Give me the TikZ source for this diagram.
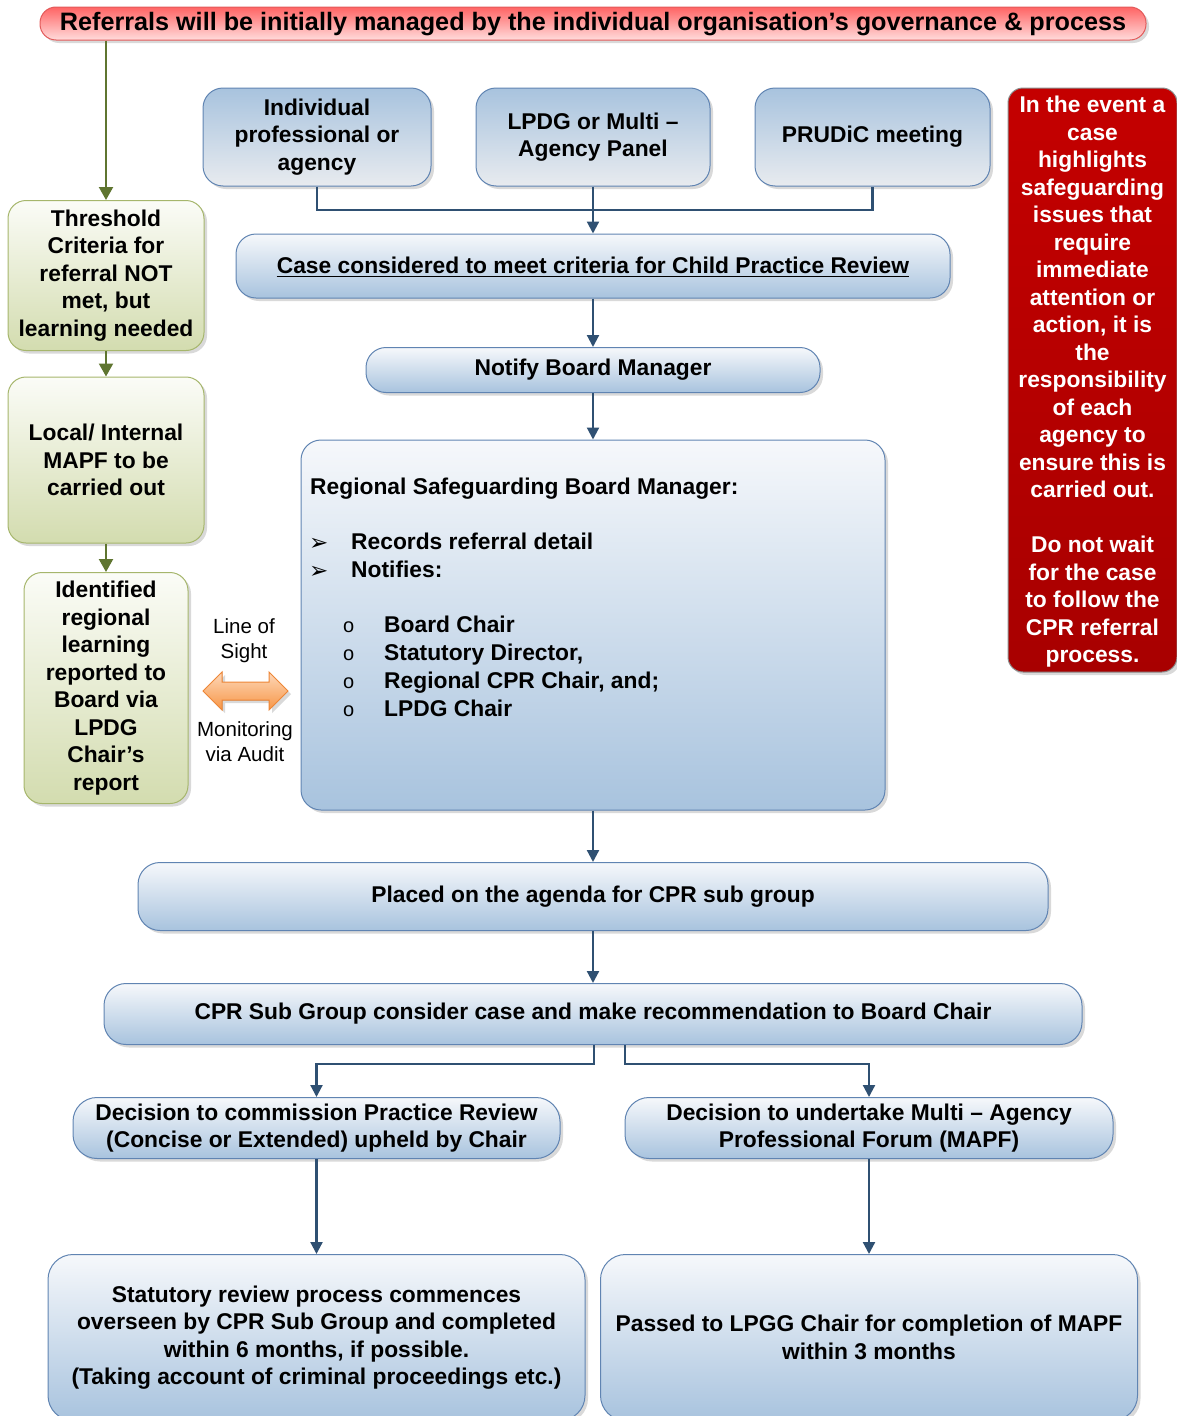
\documentclass[tikz,border=0pt]{standalone}
\usepackage{fontspec}
\setmainfont{Liberation Sans}
\newfontfamily\djv{DejaVu Sans}
\usetikzlibrary{arrows.meta,shadows}
\definecolor{navy}{HTML}{2F5072}
\definecolor{bborder}{HTML}{6084B2}
\definecolor{blight}{HTML}{F6F8FB}
\definecolor{bdark}{HTML}{A8C3DE}
\definecolor{tgray}{HTML}{E8EBEF}
\definecolor{glight}{HTML}{FBFCF7}
\definecolor{gdark}{HTML}{D3DCAF}
\definecolor{gborder}{HTML}{A6B66C}
\definecolor{garr}{HTML}{5F7530}
\definecolor{rtop}{HTML}{FF6464}
\definecolor{rbot}{HTML}{FFDCDC}
\definecolor{rborder}{HTML}{E25A5A}
\definecolor{dredtop}{HTML}{C40000}
\definecolor{dredbot}{HTML}{A80000}
\definecolor{otop}{HTML}{FDD8BA}
\definecolor{obot}{HTML}{F79646}
\definecolor{oborder}{HTML}{EE8636}
\begin{document}
\begin{tikzpicture}[x=1pt,y=-1pt,
  shad/.style={drop shadow={shadow xshift=3pt,shadow yshift=-3pt,opacity=0.25,fill=black!60}},
  txt/.style={font=\bfseries\fontsize{22.8}{27.5}\selectfont},
  boxbase/.style={shad,line width=1pt,align=center,inner sep=0pt,txt},
  bluebox/.style={boxbase,draw=bborder,top color=blight,bottom color=bdark,rounded corners=20pt},
  topbox/.style={boxbase,draw=bborder,top color=bdark,bottom color=tgray,rounded corners=20pt},
  greenbox/.style={boxbase,draw=gborder,top color=glight,bottom color=gdark,rounded corners=18pt},
  nline/.style={draw=navy,line width=2.2pt},
  narrow/.style={nline,-{Triangle[width=12pt,length=12pt]}},
  garrow/.style={draw=garr,line width=2.2pt,-{Triangle[width=14pt,length=13pt]}},
  plain/.style={font=\fontsize{20.5}{25}\selectfont,align=center,inner sep=0pt},
  bul/.style={anchor=base west,inner sep=0pt,font=\djv\fontsize{23}{24}\selectfont}
]
\useasboundingbox (0,0) rectangle (1177,1416);
\clip (0,0) rectangle (1177,1416);

% top banner
\node[boxbase,draw=rborder,top color=rtop,bottom color=rbot,rounded corners=16pt,
      minimum width=1106,minimum height=33] (banner) at (593,23.5) {};
\node[inner sep=0pt,font=\bfseries\fontsize{25.2}{28}\selectfont] (bannertxt) at (593,24.5)
  {Referrals will be initially managed by the individual organisation’s governance \& process};

% top row
\node[topbox,minimum width=228,minimum height=98] (ind) at (317,137) {Individual\\professional or\\agency};
\node[topbox,minimum width=234,minimum height=98] (lpdg) at (593,137) {LPDG or Multi –\\Agency Panel};
\node[topbox,minimum width=235,minimum height=98] (prud) at (872.5,137) {PRUDiC meeting};

% case box
\node[bluebox,minimum width=714,minimum height=64] (case) at (593,266) {};
\node[txt,inner sep=0pt] (casetxt) at (593,265) {Case considered to meet criteria for Child Practice Review};
\draw[line width=1.3pt] ([yshift=-3.5pt]casetxt.base west) -- ([yshift=-3.5pt]casetxt.base east);

% notify
\node[bluebox,minimum width=454,minimum height=45] (notify) at (593,370) {Notify Board Manager};

% regional box
\node[bluebox,minimum width=584,minimum height=370] (reg) at (593,625) {};
\node[txt,anchor=base west,inner sep=0pt] (rt) at (310,494) {Regional Safeguarding Board Manager:};
\node[bul] (b1) at (309,550) {➢};
\node[bul] (b2) at (309,578) {➢};
\node[txt,anchor=base west,inner sep=0pt] (t1) at (351,549) {Records referral detail};
\node[txt,anchor=base west,inner sep=0pt] (t2) at (351,577) {Notifies:};
\foreach \yy/\tt [count=\i] in {632/Board Chair,660/{Statutory Director,},688/{Regional CPR Chair, and;},716/LPDG Chair}{
  \node[anchor=base west,inner sep=0pt,font=\fontsize{20}{24}\selectfont] (o\i) at (343,\yy) {o};
  \node[txt,anchor=base west,inner sep=0pt] (s\i) at (384,\yy) {\tt};
}

% placed / CPR
\node[bluebox,minimum width=910,minimum height=68,rounded corners=22pt] (placed) at (593,896.5) {Placed on the agenda for CPR sub group};
\node[bluebox,minimum width=978,minimum height=61,rounded corners=22pt] (cpr) at (593,1014) {CPR Sub Group consider case and make recommendation to Board Chair};

% decisions
\node[bluebox,minimum width=487,minimum height=61,rounded corners=24pt] (dl) at (316.5,1128) {Decision to commission Practice Review\\(Concise or Extended) upheld by Chair};
\node[bluebox,minimum width=488,minimum height=61,rounded corners=24pt] (dr) at (869,1128) {Decision to undertake Multi – Agency\\Professional Forum (MAPF)};

% bottom boxes
\node[bluebox,minimum width=537,minimum height=166,rounded corners=25pt] (bl) at (316.5,1337.5) {Statutory review process commences\\overseen by CPR Sub Group and completed\\within 6 months, if possible.\\(Taking account of criminal proceedings etc.)};
\node[bluebox,minimum width=537,minimum height=166,rounded corners=25pt] (br) at (869,1337.5) {Passed to LPGG Chair for completion of MAPF\\within 3 months};

% left column
\node[greenbox,minimum width=196,minimum height=150] (thr) at (106,275.5) {Threshold\\Criteria for\\referral NOT\\met, but\\learning needed};
\node[greenbox,minimum width=196,minimum height=166] (loc) at (106,460) {Local/ Internal\\MAPF to be\\carried out};
\node[greenbox,minimum width=164,minimum height=231] (idr) at (106,688) {Identified\\regional\\learning\\reported to\\Board via\\LPDG\\Chair’s\\report};

% red box
\node[boxbase,draw=black!45,top color=dredtop,bottom color=dredbot,rounded corners=15pt,
      minimum width=169,minimum height=584] (red) at (1092.5,380) {};
\node[txt,align=center,inner sep=0pt,text=white] (redtxt) at (1092.5,382)
  {In the event a\\case\\highlights\\safeguarding\\issues that\\require\\immediate\\attention or\\action, it is\\the\\responsibility\\of each\\agency to\\ensure this is\\carried out.\\[27.5pt]Do not wait\\for the case\\to follow the\\CPR referral\\process.};

% line of sight
\node[plain] (los) at (244,641) {Line of\\Sight};
\node[plain] (mon) at (245,742) {Monitoring\\via Audit};
\filldraw[draw=oborder,line width=1pt,top color=otop,bottom color=obot,shad]
  (203,691) -- (222,672) -- (222,682) -- (269,682) -- (269,672) -- (288,691)
  -- (269,710) -- (269,700) -- (222,700) -- (222,710) -- cycle;

% connectors
\coordinate (j) at (593,210);
\draw[nline] (ind.south) |- (j) -| (prud.south);
\draw[narrow] (lpdg.south) -- (case.north);
\draw[narrow] (case.south) -- (notify.north);
\draw[narrow] (notify.south) -- (reg.north);
\draw[narrow] (reg.south) -- (placed.north);
\draw[narrow] (placed.south) -- (cpr.north);
\draw[narrow] ([xshift=1pt]cpr.south) -- ++(0,19) -| (dl.north);
\draw[narrow] ([xshift=32pt]cpr.south) -- ++(0,19) -| (dr.north);
\draw[narrow] (dl.south) -- (bl.north);
\draw[narrow] (dr.south) -- (br.north);

\draw[garrow] (banner.south -| thr.north) -- (thr.north);
\draw[garrow] (thr.south) -- (loc.north);
\draw[garrow] (loc.south) -- (idr.north);
\end{tikzpicture}
\end{document}
